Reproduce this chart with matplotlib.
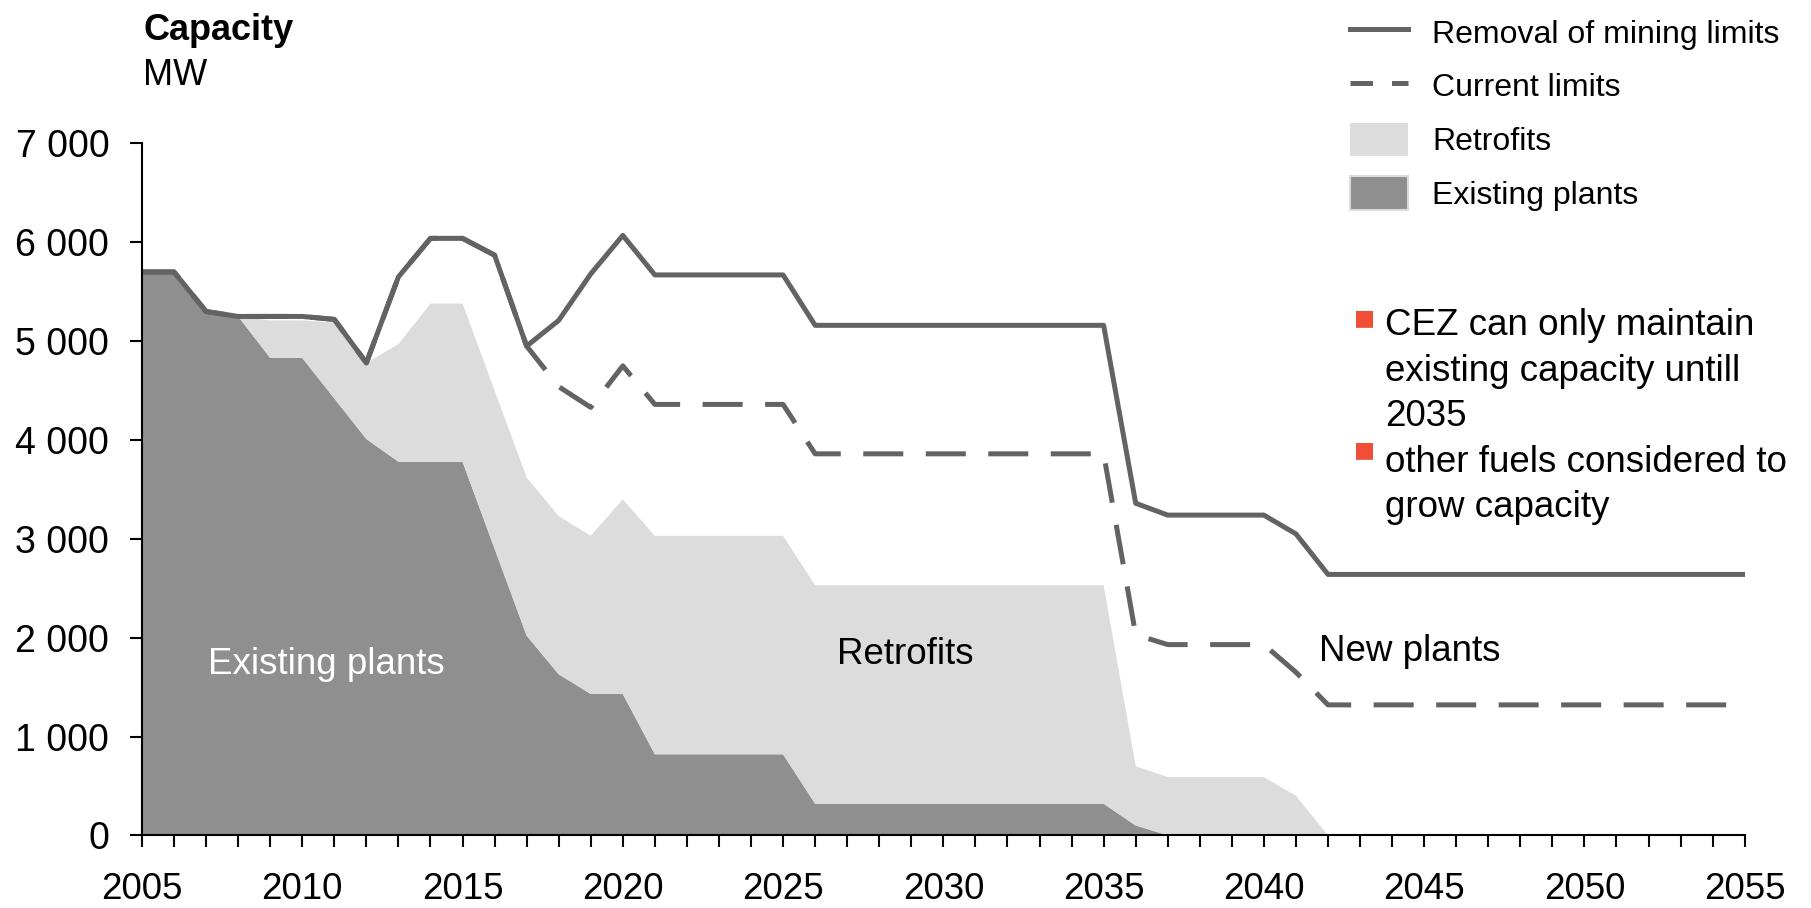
import numpy as np
import matplotlib
matplotlib.use('Agg')
import matplotlib.pyplot as plt
from matplotlib.ticker import MultipleLocator, FuncFormatter
from matplotlib.lines import Line2D
from matplotlib.patches import Patch

plt.rcParams['font.family'] = ['Liberation Sans', 'DejaVu Sans']

years = np.arange(2005, 2056)

# existing plants capacity, MW
existing = [5700, 5700, 5300, 5250, 4830, 4830, 4420, 4010, 3780, 3780,
            3780, 2900, 2020, 1630, 1430, 1430, 820, 820, 820, 820,
            820, 320, 320, 320, 320, 320, 320, 320, 320, 320,
            320, 100, 0, 0, 0, 0, 0, 0, 0, 0,
            0, 0, 0, 0, 0, 0, 0, 0, 0, 0, 0]

# retrofits on top of existing plants, MW
retrofits = [0, 0, 0, 0, 380, 380, 770, 770, 1190, 1600,
             1600, 1600, 1600, 1600, 1600, 1970, 2210, 2210, 2210, 2210,
             2210, 2210, 2210, 2210, 2210, 2210, 2210, 2210, 2210, 2210,
             2210, 600, 590, 590, 590, 590, 400, 0, 0, 0,
             0, 0, 0, 0, 0, 0, 0, 0, 0, 0, 0]

removal = [5700, 5700, 5300, 5250, 5250, 5250, 5220, 4780, 5650, 6040,
           6040, 5870, 4950, 5210, 5680, 6070, 5670, 5670, 5670, 5670,
           5670, 5160, 5160, 5160, 5160, 5160, 5160, 5160, 5160, 5160,
           5160, 3360, 3240, 3240, 3240, 3240, 3050, 2640, 2640, 2640,
           2640, 2640, 2640, 2640, 2640, 2640, 2640, 2640, 2640, 2640, 2640]

current = [5700, 5700, 5300, 5250, 5250, 5250, 5220, 4780, 5650, 6040,
           6040, 5870, 4950, 4540, 4330, 4750, 4360, 4360, 4360, 4360,
           4360, 3860, 3860, 3860, 3860, 3860, 3860, 3860, 3860, 3860,
           3860, 2030, 1930, 1930, 1930, 1930, 1650, 1320, 1320, 1320,
           1320, 1320, 1320, 1320, 1320, 1320, 1320, 1320, 1320, 1320, 1320]

dark = '#8f8f8f'
light = '#dcdcdc'
line_c = '#636363'
red = '#f04e37'

fig = plt.figure(figsize=(18.11, 9.08), dpi=100)
ax = fig.add_axes([0.0784, 0.080, 0.885, 0.762])

ax.stackplot(years, existing, retrofits, colors=[dark, light], linewidth=0)
ax.plot(years, current, color=line_c, lw=3.6, dashes=(8, 4.5))
ax.plot(years, removal, color=line_c, lw=3.6)

ax.set_xlim(2005, 2055)
ax.set_ylim(0, 7000)
ax.xaxis.set_major_locator(MultipleLocator(5))
ax.xaxis.set_minor_locator(MultipleLocator(1))
ax.yaxis.set_major_locator(MultipleLocator(1000))
ax.yaxis.set_major_formatter(FuncFormatter(lambda v, p: f'{int(v):,}'.replace(',', ' ')))

for s in ['top', 'right']:
    ax.spines[s].set_visible(False)
for s in ['left', 'bottom']:
    ax.spines[s].set_linewidth(1.5)
ax.tick_params(axis='x', which='both', direction='out', length=8.5, width=1.5, pad=18, labelsize=26.5)
ax.tick_params(axis='y', direction='out', length=8.5, width=1.5, pad=15, labelsize=27)

ax.text(2010.75, 1730, 'Existing plants', color='white', ha='center', va='center', fontsize=26.5)
ax.text(2028.8, 1825, 'Retrofits', color='black', ha='center', va='center', fontsize=26.5)
ax.text(2044.55, 1860, 'New plants', color='black', ha='center', va='center', fontsize=26.5)

fig.text(0.079, 1 - 40 / 908, 'Capacity', fontsize=26, weight='bold', va='baseline')
fig.text(0.079, 1 - 85 / 908, 'MW', fontsize=26, va='baseline')

fig.text(0.765, 1 - 308 / 908,
         'CEZ can only maintain\nexisting capacity untill\n2035\nother fuels considered to\ngrow capacity',
         fontsize=26.5, va='top', ha='left', linespacing=1.39)
fig.text(1364 / 1811, 1 - 318 / 908, '\u25a0', color=red, fontsize=16, ha='center', va='center',
         family='DejaVu Sans')
fig.text(1364 / 1811, 1 - 450 / 908, '\u25a0', color=red, fontsize=16, ha='center', va='center',
         family='DejaVu Sans')

handles = [Line2D([], [], color=line_c, lw=3.6),
           Line2D([], [], color=line_c, lw=3.6, dashes=(4.5, 3.8)),
           Patch(facecolor=light, edgecolor='none'),
           Patch(facecolor=dark, edgecolor=light, lw=1.5)]
labels = ['Removal of mining limits', 'Current limits', 'Retrofits', 'Existing plants']
ax.legend(handles, labels, loc='upper left', bbox_to_anchor=(1350 / 1811, 1 - 15 / 908),
          bbox_transform=fig.transFigure, frameon=False, fontsize=23,
          handlelength=1.8, handleheight=1.25, handletextpad=0.77,
          labelspacing=0.6, borderpad=0, borderaxespad=0)

fig.savefig('out.png', dpi=100)
